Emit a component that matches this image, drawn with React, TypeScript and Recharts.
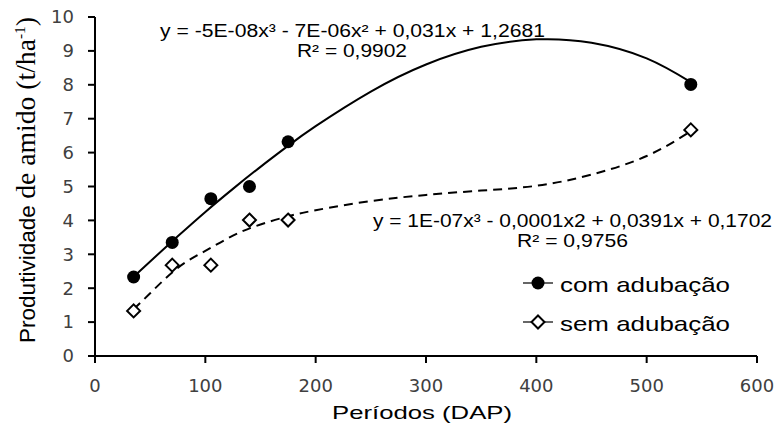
import {
  ComposedChart, Line, Scatter, XAxis, YAxis, Legend, Customized,
} from "recharts";

// observed periods (DAP) and starch yield (t/ha)
const periods = [35, 70, 105, 140, 175, 540];
const comAdubacao = [2.33, 3.35, 4.64, 5.0, 6.32, 8.01];
const semAdubacao = [1.33, 2.68, 2.68, 4.01, 4.01, 6.67];

// trend curves
const curveX = [35, 50, 75, 100, 125, 150, 175, 200, 250, 300, 350, 400, 450, 500, 540];
const comCurve = [2.34, 2.79, 3.53, 4.25, 4.93, 5.58, 6.2, 6.78, 7.8, 8.6, 9.12, 9.34, 9.24, 8.78, 8.08];
const semCurve = [1.38, 1.85, 2.6, 3.1, 3.55, 3.88, 4.12, 4.3, 4.57, 4.75, 4.88, 5.02, 5.35, 5.9, 6.63];

const xTicks = [0, 100, 200, 300, 400, 500, 600];
const yTicks = [0, 1, 2, 3, 4, 5, 6, 7, 8, 9, 10];

const comPoints = periods.map((x, i) => ({ x, y: comAdubacao[i] }));
const semPoints = periods.map((x, i) => ({ x, y: semAdubacao[i] }));
const comLine = curveX.map((x, i) => ({ x, y: comCurve[i] }));
const semLine = curveX.map((x, i) => ({ x, y: semCurve[i] }));

const SANS = "'Liberation Sans', Arial, sans-serif";
const SERIF = "'Liberation Serif', 'Times New Roman', serif";
const TICK = { fontFamily: "'DejaVu Sans', sans-serif", fontSize: 18, fill: "#404040" };

const Dot = (p: any) => <circle cx={p.cx} cy={p.cy} r={6.5} fill="#000" />;
const Diamond = (p: any) => (
  <path
    d={`M${p.cx},${p.cy - 6.5}L${p.cx + 6.5},${p.cy}L${p.cx},${p.cy + 6.5}L${p.cx - 6.5},${p.cy}Z`}
    fill="#fff" stroke="#000" strokeWidth={2}
  />
);

function LegendBox({ payload }: any) {
  const rows = (payload || []).filter((e: any) => e.type !== "none");
  return (
    <svg width={240} height={72} style={{ display: "block" }}>
      {rows.map((e: any, i: number) => {
        const y = 18 + i * 39;
        return (
          <g key={e.value}>
            <line x1={8} x2={38} y1={y} y2={y} stroke="#000" strokeWidth={1.2} />
            {i === 0 ? <Dot cx={23} cy={y} /> : <Diamond cx={23} cy={y} />}
            <text x={45} y={y + 9} fontFamily={SANS} fontSize={21} fill="#000"
              textLength={170} lengthAdjust="spacingAndGlyphs">{e.value}</text>
          </g>
        );
      })}
    </svg>
  );
}

function Annotations() {
  return (
    <g fill="#000">
      <text x={160} y={37} fontFamily={SANS} fontSize={18} textLength={385} lengthAdjust="spacingAndGlyphs">
        y = -5E-08x³ - 7E-06x² + 0,031x + 1,2681
      </text>
      <text x={297} y={57} fontFamily={SANS} fontSize={18} textLength={110} lengthAdjust="spacingAndGlyphs">
        R² = 0,9902
      </text>
      <text x={373} y={227} fontFamily={SANS} fontSize={18} textLength={399} lengthAdjust="spacingAndGlyphs">
        y = 1E-07x³ - 0,0001x2 + 0,0391x + 0,1702
      </text>
      <text x={517} y={247} fontFamily={SANS} fontSize={18} textLength={111} lengthAdjust="spacingAndGlyphs">
        R² = 0,9756
      </text>
      <text x={332} y={419} fontFamily={SANS} fontSize={19} textLength={180} lengthAdjust="spacingAndGlyphs">
        Períodos (DAP)
      </text>
      <text transform="translate(35,343) rotate(-90)" x={0} y={0}
        textLength={326} lengthAdjust="spacingAndGlyphs">
        <tspan fontFamily={SANS} fontSize={22}>Produtividade </tspan>
        <tspan fontFamily={SERIF} fontSize={27}>de amido (t/ha</tspan>
        <tspan fontFamily={SERIF} fontSize={15} dy={-10}>-1</tspan>
        <tspan fontFamily={SERIF} fontSize={27} dy={10}>)</tspan>
      </text>
    </g>
  );
}

export default function App() {
  return (
    <div style={{ position: "absolute", left: 0, top: 0, background: "#fff" }}>
      <ComposedChart width={779} height={430} margin={{ top: 17, right: 22, bottom: 14, left: 0 }}>
        <XAxis
          type="number" dataKey="x" domain={[0, 600]} ticks={xTicks} allowDataOverflow
          stroke="#000" strokeWidth={2} tickSize={7} tickMargin={16} height={60}
          tick={TICK} tickLine={{ stroke: "#000", strokeWidth: 2 }}
        />
        <YAxis
          type="number" domain={[0, 10]} ticks={yTicks} width={95}
          stroke="#000" strokeWidth={2} tickSize={7} tickMargin={14}
          tick={TICK} tickLine={{ stroke: "#000", strokeWidth: 2 }}
        />
        <Line data={comLine} dataKey="y" type="natural" stroke="#000" strokeWidth={2}
          dot={false} activeDot={false} legendType="none" isAnimationActive={false} />
        <Line data={semLine} dataKey="y" type="natural" stroke="#000" strokeWidth={2}
          strokeDasharray="9 6" dot={false} activeDot={false} legendType="none" isAnimationActive={false} />
        <Scatter name="com adubação" data={comPoints} dataKey="y" fill="#000"
          shape={Dot} isAnimationActive={false} />
        <Scatter name="sem adubação" data={semPoints} dataKey="y" fill="#fff"
          shape={Diamond} isAnimationActive={false} />
        <Legend layout="vertical" align="center" verticalAlign="middle" content={LegendBox}
          wrapperStyle={{ position: "absolute", left: 515, top: 265, width: 240 }} />
        <Customized component={Annotations} />
      </ComposedChart>
    </div>
  );
}
